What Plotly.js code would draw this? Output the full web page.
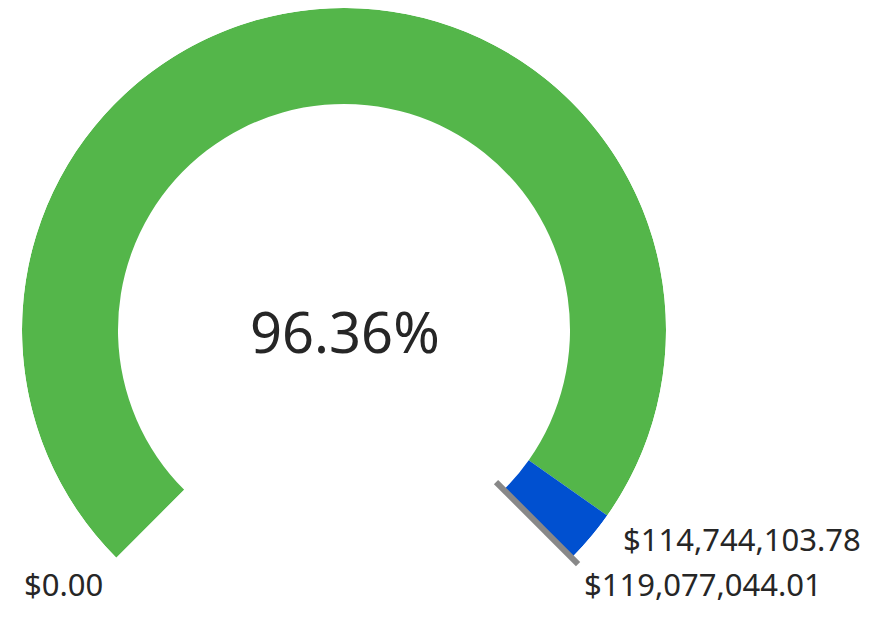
<!DOCTYPE html>
<html><head><meta charset="utf-8">
<script src="https://cdn.plot.ly/plotly-3.0.1.min.js"></script>
<style>html,body{margin:0;padding:0;background:#fff;overflow:hidden}#chart{width:869px;height:621px}</style>
</head><body><div id="chart"></div>
<script>
// ---- data ----
const gaugeMin = 0;
const gaugeValue = 114744103.78;
const gaugeMax = 119077044.01;
const targetValue = 119077044.01;
const segmentStarts = [gaugeMin, gaugeValue];
const segmentEnds = [gaugeValue, gaugeMax];
const segmentColors = ['#54b64a', '#0050d0'];

// ---- helpers ----
const SPAN = 270;
const toDeg = v => (v - gaugeMin) / (gaugeMax - gaugeMin) * SPAN;
const money = v => '$' + v.toLocaleString('en-US', {minimumFractionDigits: 2, maximumFractionDigits: 2});
const pct = (gaugeValue - gaugeMin) / (gaugeMax - gaugeMin) * 100;

const W = 869, H = 621;
const px = x => x / W, py = y => 1 - y / H;
// gauge geometry (pixels)
const CX = 344, CY = 330, R_OUT = 322, R_HOLE = 215;

const traces = segmentStarts.map((s, i) => ({
  type: 'barpolar',
  theta: [(toDeg(s) + toDeg(segmentEnds[i])) / 2],
  width: [toDeg(segmentEnds[i]) - toDeg(s)],
  r: [96],
  base: [11],
  marker: {color: segmentColors[i], line: {width: 0}},
  hoverinfo: 'skip'
}));

// target marker as a shape on top, angle derived from the target value
const tAng = (225 - toDeg(targetValue)) * Math.PI / 180;
const mk = r => [CX + r * Math.cos(tAng), CY - r * Math.sin(tAng)];
const p0 = mk(R_HOLE), p1 = mk(331);

const textFont = {family: 'Noto Sans, sans-serif', size: 31, color: '#262626'};
const layout = {
  width: W, height: H,
  margin: {l: 0, r: 0, t: 0, b: 0},
  paper_bgcolor: '#ffffff',
  showlegend: false,
  hovermode: false,
  polar: {
    domain: {x: [px(CX - R_OUT), px(CX + R_OUT)], y: [py(CY + R_OUT * Math.SQRT1_2), py(CY - R_OUT)]},
    sector: [-45, 225],
    hole: R_HOLE / R_OUT,
    bgcolor: 'rgba(0,0,0,0)',
    radialaxis: {visible: false, range: [0, R_OUT - R_HOLE]},
    angularaxis: {visible: false, rotation: 225, direction: 'clockwise'}
  },
  shapes: [
    {type: 'line', xref: 'paper', yref: 'paper', layer: 'above',
     x0: px(p0[0]), y0: py(p0[1]), x1: px(p1[0]), y1: py(p1[1]),
     line: {color: '#888888', width: 6}}
  ],
  annotations: [
    {text: pct.toFixed(2) + '%', xref: 'paper', yref: 'paper', x: px(345), y: py(331),
     xanchor: 'center', yanchor: 'middle', showarrow: false,
     font: {family: 'Noto Sans, sans-serif', size: 56, color: '#262626'}},
    {text: money(gaugeMin), xref: 'paper', yref: 'paper', x: px(22), y: py(584),
     xanchor: 'left', yanchor: 'middle', showarrow: false, font: textFont},
    {text: money(gaugeValue), xref: 'paper', yref: 'paper', x: px(863), y: py(539),
     xanchor: 'right', yanchor: 'middle', showarrow: false, font: textFont},
    {text: money(gaugeMax), xref: 'paper', yref: 'paper', x: px(582), y: py(584),
     xanchor: 'left', yanchor: 'middle', showarrow: false, font: textFont}
  ]
};
Plotly.newPlot('chart', traces, layout, {displayModeBar: false, staticPlot: true});
</script></body></html>
